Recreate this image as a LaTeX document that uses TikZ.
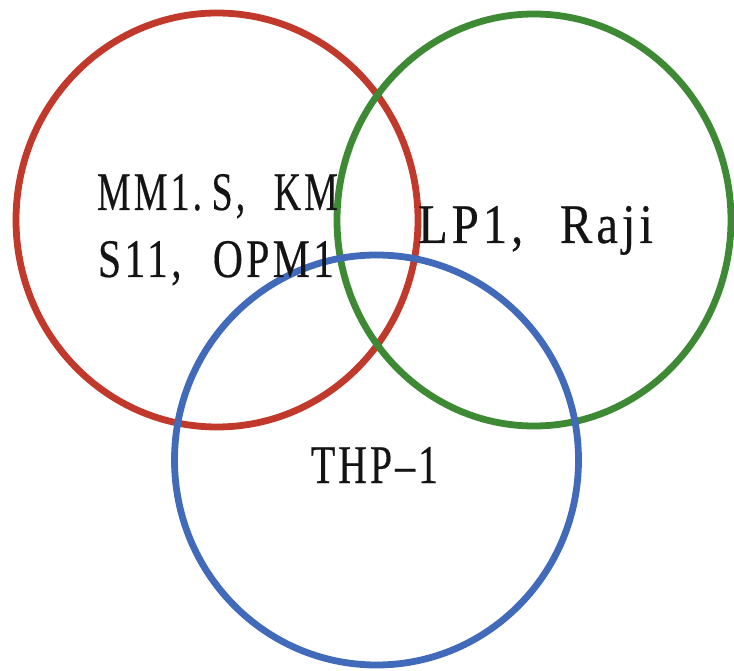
\documentclass[tikz,border=0pt]{standalone}
\usepackage{fontspec}
\setmainfont{Liberation Serif}
\newfontfamily\spacedfont[LetterSpace=8,FakeBold=0.4]{Liberation Serif}
\definecolor{cred}{RGB}{192,57,43}
\definecolor{cgreen}{RGB}{61,137,52}
\definecolor{cblue}{RGB}{66,106,186}
\tikzset{
  ring/.style={line width=6.8pt},
  lbl/.style={anchor=base west, inner sep=0pt, outer sep=0pt, text=black!92},
}
\newcommand{\lab}[3]{\resizebox{#1pt}{#2pt}{\spacedfont\fontsize{53}{60}\selectfont #3}}
\begin{document}
\begin{tikzpicture}[x=1pt,y=-1pt]
\useasboundingbox (0,0) rectangle (734,671);
\draw[ring, cred] (217,220) ellipse [x radius=201, y radius=207];
\draw[ring, cgreen] (534,220) ellipse [x radius=197, y radius=206];
\draw[ring, cblue] (376.5,460) ellipse [x radius=202, y radius=205];
\node[lbl] (t1) at (97,210) {\lab{241}{36}{MM1.\hspace{0.25em}S,\hspace{0.75em}KM}};
\node[lbl] (t2) at (98,277) {\lab{236}{36}{S11,\hspace{0.75em}OPM1}};
\node[lbl] (t3) at (418,243) {\lab{235}{37}{LP1,\hspace{0.75em}Raji}};
\node[lbl] (t4) at (311,483) {\lab{127}{36}{THP–1}};
\end{tikzpicture}
\end{document}
